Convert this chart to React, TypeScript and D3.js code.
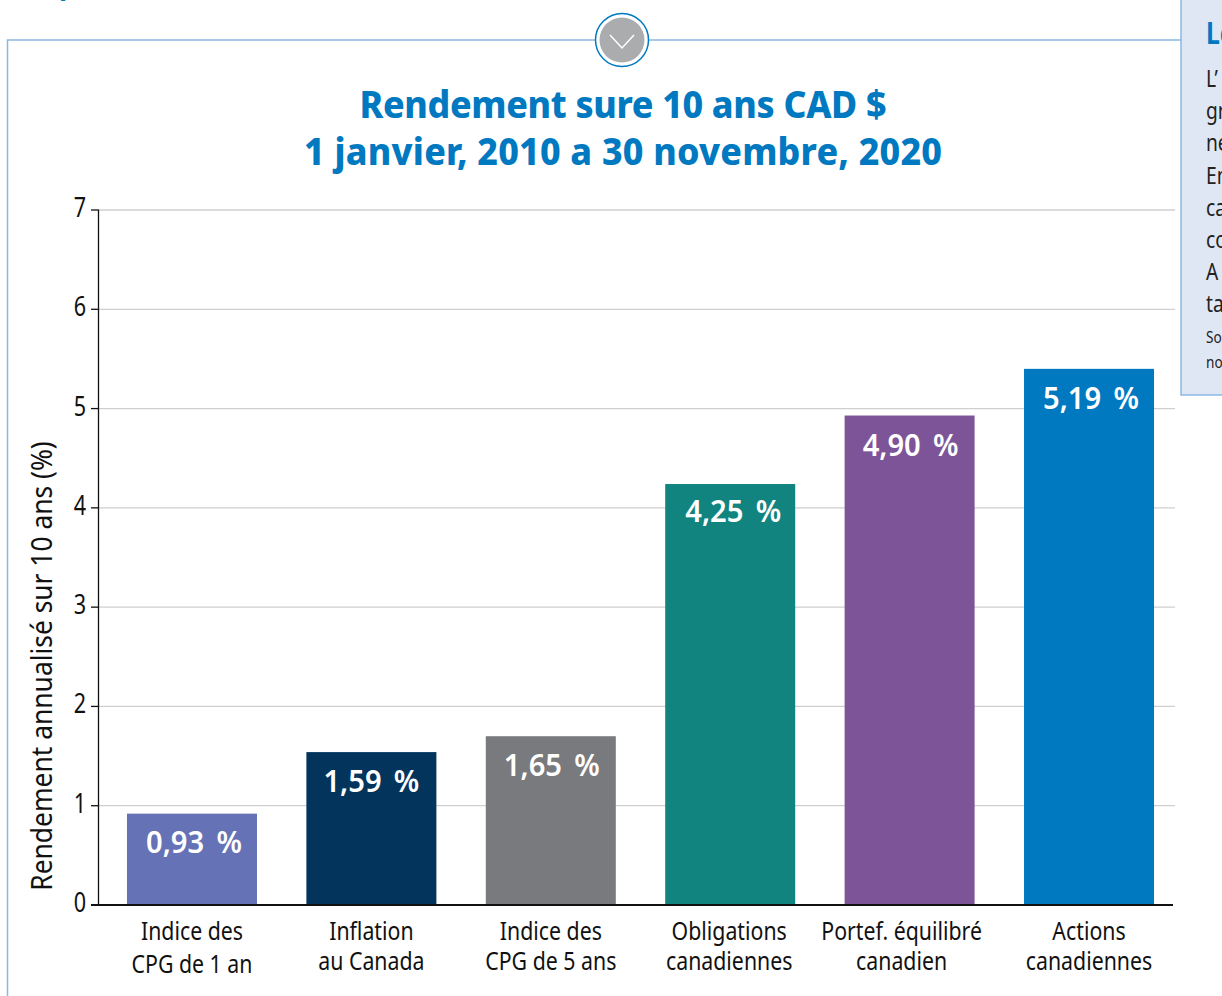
import React from "react";
import * as d3 from "d3";

const categories = ["Indice des|CPG de 1 an", "Inflation|au Canada", "Indice des|CPG de 5 ans", "Obligations|canadiennes", "Portef. équilibré|canadien", "Actions|canadiennes"];
const barHeights = [0.92, 1.54, 1.70, 4.24, 4.93, 5.40];
const valueLabels = ["0,93 %", "1,59 %", "1,65 %", "4,25 %", "4,90 %", "5,19 %"];
const barColors = ["#6572b5", "#02345c", "#797a7d", "#12847f", "#7e5499", "#0079c1"];
const yTicks = [0, 1, 2, 3, 4, 5, 6, 7];
const titleLines = ["Rendement sure 10 ans CAD $", "1 janvier, 2010 a 30 novembre, 2020"];
const yAxisTitle = "Rendement annualisé sur 10 ans (%)";
const panelHeading = "Le";
const panelLines = ["L’", "gr", "ne", "En", "ca", "co", "A", "ta"];
const panelNotes = ["So", "no"];
const topFragment = "p";

const FONT = "'Noto Sans', sans-serif";
const BLUE = "#0079c1";
const FRAME = "#8db8e2";

const x = d3.scaleBand<number>().domain(d3.range(6)).range([99, 1182]).paddingInner(0.2754).paddingOuter(0.156);
const y = d3.scaleLinear().domain([0, 7]).range([905, 210]);

const titleWidths = [527, 638];
const labelDx = [2, 0, 1, 3, 1, 2];
const labelDy = [-1, 0, 0, -2, 0, 0];
const catDx = [0, 0, 0, -1, -8, 0];
const catDy = [[0, 3], [0, 0], [0, 0], [0, 0], [0, 0], [0, 0]];

function T({ x, y, size, sx = 0.8, fill = "#111", weight = 400, anchor = "middle", children, ...rest }: any) {
  return (
    <text transform={`translate(${x},${y}) scale(${sx},1)`} fontSize={size} fontWeight={weight} fontFamily={FONT} fill={fill} textAnchor={anchor} {...rest}>
      {children}
    </text>
  );
}

export default function App() {
  return (
    <svg width={1222} height={996} style={{ position: "absolute", left: 0, top: 0, background: "#fff" }}>
      <T x={59} y={-6} size={30} sx={0.9} weight={700} fill={BLUE} anchor="start">{topFragment}</T>
      <path d="M7.5,996V40H1181" fill="none" stroke={FRAME} strokeWidth={1.5} />
      <rect x={1181} y={-2} width={50} height={397} fill="#e0e7f4" stroke={FRAME} strokeWidth={1.5} />
      <T x={1206} y={44} size={31} weight={700} fill={BLUE} anchor="start">{panelHeading}</T>
      {panelLines.map((s, i) => (
        <T key={i} x={1206} y={87 + i * 32.2} size={24} fill="#222" anchor="start">{s}</T>
      ))}
      {panelNotes.map((s, i) => (
        <T key={i} x={1206} y={343 + i * 25} size={17} fill="#222" anchor="start">{s}</T>
      ))}

      <circle cx={622} cy={40} r={26.5} fill="#fff" stroke={BLUE} strokeWidth={1.5} />
      <circle cx={622} cy={40} r={22.5} fill="#abacae" />
      <path d="M610,35L622,48L634,35" fill="none" stroke="#fff" strokeWidth={1.5} />

      {titleLines.map((s, i) => (
        <T key={i} x={623} y={118 + i * 47} size={38} sx={0.94} weight={800} fill={BLUE} textLength={titleWidths[i] / 0.94} lengthAdjust="spacing">{s}</T>
      ))}

      {yTicks.filter((t) => t > 0).map((t) => (
        <line key={t} x1={99} x2={1175} y1={y(t)} y2={y(t)} stroke="#cfcfcf" strokeWidth={1.3} />
      ))}
      {yTicks.map((t) => (
        <g key={t}>
          <line x1={91} x2={99} y1={y(t)} y2={y(t)} stroke="#111" strokeWidth={1.3} />
          <T x={86} y={y(t) + 7} size={27} anchor="end">{t}</T>
        </g>
      ))}

      {barHeights.map((v, i) => (
        <g key={i}>
          <rect x={x(i)} y={y(v)} width={x.bandwidth()} height={y(0) - y(v)} fill={barColors[i]} />
          <T x={x(i)! + x.bandwidth() / 2 + labelDx[i]} y={y(v) + 40 + labelDy[i]} size={31} sx={0.94} weight={600} fill="#fff" wordSpacing={5}>{valueLabels[i]}</T>
          {categories[i].split("|").map((s, j) => (
            <T key={j} x={x(i)! + x.bandwidth() / 2 + catDx[i]} y={940 + j * 30 + catDy[i][j]} size={26} sx={0.82} fill="#111">{s}</T>
          ))}
        </g>
      ))}

      <line x1={98.5} x2={98.5} y1={y(7)} y2={y(0)} stroke="#111" strokeWidth={1.3} />
      <line x1={91} x2={1173} y1={y(0)} y2={y(0)} stroke="#111" strokeWidth={2} />

      <text transform="translate(52,666) rotate(-90) scale(0.91,1)" fontSize={29} fontFamily={FONT} fill="#111" textAnchor="middle">{yAxisTitle}</text>
    </svg>
  );
}
